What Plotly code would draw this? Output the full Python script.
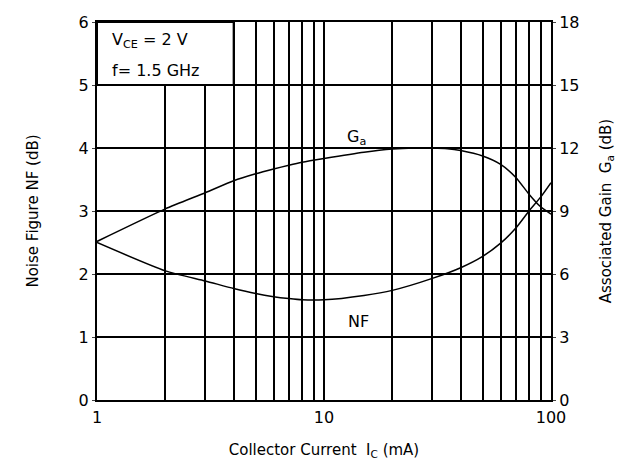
import plotly.graph_objects as go

# Data
current_ma = [1, 2, 3, 4, 5, 6, 7, 8, 10, 15, 20, 25, 30, 35, 40, 50, 60, 70, 80, 90, 100]
ga_db = [7.55, 9.1, 9.87, 10.44, 10.77, 11.0, 11.18, 11.32, 11.5, 11.8, 11.95, 12.0, 12.0, 11.97, 11.88, 11.62, 11.22, 10.6, 9.8, 9.2, 8.85]
nf_current_ma = [1, 2, 3, 4, 5, 6, 7, 8, 10, 15, 20, 30, 40, 50, 60, 70, 80, 90, 100]
nf_db = [2.5, 2.05, 1.89, 1.77, 1.69, 1.64, 1.61, 1.59, 1.59, 1.66, 1.74, 1.93, 2.1, 2.28, 2.49, 2.73, 3.0, 3.22, 3.45]

x_tickvals = [1, 2, 3, 4, 5, 6, 7, 8, 9, 10, 20, 30, 40, 50, 60, 70, 80, 90, 100]
x_ticktext = ["1", "", "", "", "", "", "", "", "", "10", "", "", "", "", "", "", "", "", "100"]
nf_ticks = [0, 1, 2, 3, 4, 5, 6]
ga_ticks = [0, 3, 6, 9, 12, 15, 18]

FONT = "DejaVu Sans, Arial, sans-serif"

fig = go.Figure()
fig.add_trace(go.Scatter(x=nf_current_ma, y=nf_db, mode="lines",
                         line=dict(color="black", width=1.5, shape="spline", smoothing=0.6),
                         showlegend=False, yaxis="y"))
fig.add_trace(go.Scatter(x=current_ma, y=ga_db, mode="lines",
                         line=dict(color="black", width=1.5, shape="spline", smoothing=0.6),
                         showlegend=False, yaxis="y2"))

fig.update_layout(
    width=632, height=470,
    margin=dict(l=89, r=89, t=14, b=78),
    paper_bgcolor="white", plot_bgcolor="white",
    font=dict(family=FONT, size=16, color="black"),
    xaxis=dict(type="log", range=[0, 2], tickvals=x_tickvals, ticktext=x_ticktext,
               showgrid=True, gridcolor="black", gridwidth=2,
               showline=True, linecolor="black", linewidth=2, mirror=True,
               ticks="outside", ticklen=2, tickcolor="white", zeroline=False, automargin=False,
               title=dict(text="Collector Current  I<sub>C</sub> (mA)", font=dict(size=15), standoff=18)),
    yaxis=dict(range=[0, 6], tickvals=nf_ticks, showgrid=True, gridcolor="black", gridwidth=2,
               showline=True, linecolor="black", linewidth=2, ticks="outside", ticklen=3,
               zeroline=False, automargin=False,
               title=dict(text="Noise Figure NF (dB)", font=dict(size=15), standoff=36)),
    yaxis2=dict(range=[0, 18], tickvals=ga_ticks, overlaying="y", side="right", showgrid=False,
                showline=True, linecolor="black", linewidth=2, ticks="outside", ticklen=3,
                zeroline=False, automargin=False,
                title=dict(text="Associated Gain  G<sub>a</sub> (dB)", font=dict(size=15), standoff=22)),
    shapes=[dict(type="rect", xref="paper", yref="paper", x0=0, x1=0.301, y0=5 / 6, y1=1,
                 fillcolor="white", line=dict(color="black", width=2), layer="above")],
    annotations=[
        dict(text="V<sub>CE</sub> = 2 V", xref="paper", yref="paper", x=0.029, y=0.95,
             xanchor="left", yanchor="middle", showarrow=False, font=dict(size=16)),
        dict(text="f= 1.5 GHz", xref="paper", yref="paper", x=0.029, y=0.873,
             xanchor="left", yanchor="middle", showarrow=False, font=dict(size=16)),
        dict(text="G<sub>a</sub>", xref="x", yref="y", x=1.145, y=4.17, showarrow=False, font=dict(size=16)),
        dict(text="NF", xref="x", yref="y", x=1.15, y=1.25, showarrow=False, font=dict(size=16)),
    ],
)

fig.write_html("out.html")
